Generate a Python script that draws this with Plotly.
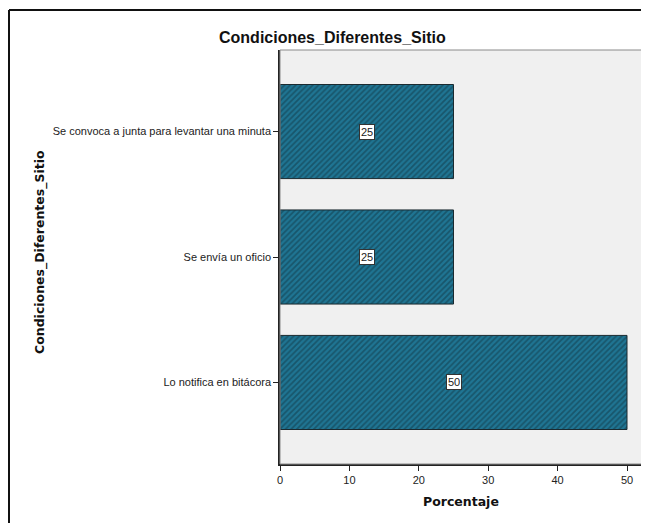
import plotly.graph_objects as go

categories = ["Lo notifica en bitácora", "Se envía un oficio", "Se convoca a junta para levantar una minuta"]
values = [50, 25, 25]
x_ticks = [0, 10, 20, 30, 40, 50]

# page body adds an 8px margin; build the figure in reference pixel coords shifted by it
OFF = 8
W, H = 649 - OFF, 523 - OFF
L, R, T, B = 280 - OFF, 644 - OFF, 50 - OFF, 464 - OFF
pw, ph = R - L, B - T

def px(x):
    return (x - OFF - L) / pw

def py(y):
    return (B - (y - OFF)) / ph

ARIAL = "Arial, Liberation Sans, sans-serif"
WIDE = "DejaVu Sans, Verdana, sans-serif"

fig = go.Figure()
fig.add_trace(go.Bar(
    y=categories, x=values, orientation="h", width=0.75,
    marker=dict(color="#1F7593",
                line=dict(color="#1a2a30", width=1),
                pattern=dict(shape="/", fgcolor="#113744", bgcolor="#1F7593",
                             size=4, solidity=0.45)),
    hoverinfo="skip",
))

annotations = []
for c, v in zip(categories, values):
    annotations.append(dict(x=v / 2, y=c, xref="x", yref="y", text=str(v), showarrow=False,
                            font=dict(family=ARIAL, size=11, color="#222"),
                            bgcolor="white", bordercolor="#333", borderwidth=1, borderpad=1))

annotations.append(dict(x=px(332), xref="paper", y=py(37), yref="paper",
                        text="<b>Condiciones_Diferentes_Sitio</b>",
                        xanchor="center", yanchor="middle", showarrow=False,
                        font=dict(family=ARIAL, size=16, color="#111")))
annotations.append(dict(x=px(40), xref="paper", y=py(252), yref="paper",
                        text="<b>Condiciones_Diferentes_Sitio</b>",
                        textangle=-90, xanchor="center", yanchor="middle", showarrow=False,
                        font=dict(family=WIDE, size=12.5, color="#111")))
annotations.append(dict(x=px(461), xref="paper", y=py(501), yref="paper", text="<b>Porcentaje</b>",
                        xanchor="center", yanchor="middle", showarrow=False,
                        font=dict(family=WIDE, size=12.5, color="#111")))

shapes = [
    dict(type="rect", xref="paper", yref="paper", x0=0, x1=1, y0=0, y1=1,
         line=dict(color="#8a8a8a", width=1), layer="above"),
    dict(type="line", xref="paper", yref="paper", x0=px(9), x1=px(9), y0=py(10), y1=py(540),
         line=dict(color="#111", width=2)),
    dict(type="line", xref="paper", yref="paper", x0=px(9), x1=px(680), y0=py(10), y1=py(10),
         line=dict(color="#111", width=2)),
]

fig.update_layout(
    width=W, height=H,
    margin=dict(l=L, r=W - R, t=T, b=H - B),
    paper_bgcolor="white", plot_bgcolor="#F0F0F0",
    showlegend=False,
    annotations=annotations, shapes=shapes,
    xaxis=dict(range=[0, pw / 6.94], tickvals=x_ticks, ticks="outside", ticklen=5, tickcolor="#222",
               showgrid=False, zeroline=False, showline=True, linecolor="#222", linewidth=1.5,
               tickfont=dict(family=ARIAL, size=11, color="#222")),
    yaxis=dict(range=[-0.65, 2.65], ticks="outside", ticklen=5, tickcolor="#222",
               showgrid=False, zeroline=False, showline=True, linecolor="#222", linewidth=1.5,
               tickfont=dict(family=ARIAL, size=11, color="#222")),
)

fig.write_html("out.html")
